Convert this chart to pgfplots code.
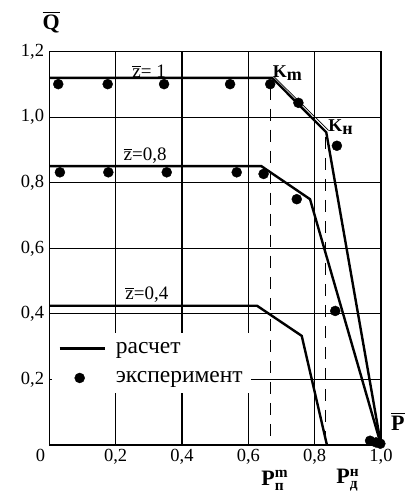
\documentclass[border=0pt]{standalone}
\usepackage{pgfplots}
\pgfplotsset{compat=1.18}
\usepackage{amsmath}
\usepackage{fontspec}
\setmainfont{Liberation Serif}
\begin{document}
\begin{tikzpicture}
\begin{axis}[
  scale only axis, width=331.7pt, height=393.3pt,
  xmin=0, xmax=1, ymin=0, ymax=1.2,
  xtick={0.2,0.4,0.6,0.8,1.0}, ytick={0.2,0.4,0.6,0.8,1.0,1.2},
  grid=major, grid style={black, line width=1.1pt},
  axis line style={line width=1.1pt}, major tick length=0pt,
  /pgf/number format/assume math mode=true,
  /pgf/number format/use comma, /pgf/number format/fixed, /pgf/number format/fixed zerofill, /pgf/number format/precision=1,
  ticklabel style={font=\fontsize{18.5}{18.5}\selectfont},
  xticklabel style={inner sep=0pt, anchor=north, yshift=-4pt},
  yticklabel style={inner sep=0pt, anchor=east, xshift=-5pt},
  clip=false,
  legend style={at={(axis cs:0.009,0.342)}, anchor=north west, fill=white, draw=none,
    font=\fontsize{23.5}{23.5}\selectfont, inner xsep=6pt, inner ysep=7pt, row sep=13pt,
    nodes={inner sep=2pt},
    /tikz/every odd column/.append style={column sep=8pt}},
  legend cell align=left,
]
% calculation z=1
\addplot[black, line width=2.4pt, legend image code/.code={\draw[black, line width=2.4pt] (0pt,0pt) -- (45pt,0pt);}]
  coordinates {(0,1.12)(0.672,1.12)(0.835,0.954)(1.0,0)};
\addlegendentry{расчет}
% experiment
\addplot[only marks, mark=*, mark size=5pt, black, legend image code/.code={\draw[black] plot[mark=*, mark size=5pt] coordinates {(20pt,0pt)};}]
  coordinates {(0.027,1.101)(0.176,1.101)(0.346,1.101)(0.545,1.101)(0.666,1.101)(0.751,1.044)(0.867,0.913)
  (0.032,0.832)(0.178,0.832)(0.354,0.832)(0.565,0.832)(0.646,0.827)(0.746,0.750)
  (0.862,0.409)(0.967,0.013)(0.985,0.008)(0.998,0.004)};
\addlegendentry{эксперимент}
\addplot[black, line width=0.7pt, forget plot] coordinates {(0.677,1.124)(0.842,0.960)};
\addplot[black, line width=2.4pt, forget plot] coordinates {(0,0.851)(0.639,0.851)(0.786,0.75)(1.0,0)};
\addplot[black, line width=2.4pt, forget plot] coordinates {(0,0.425)(0.626,0.425)(0.761,0.333)(0.837,0)};
\addplot[black, line width=1.2pt, dash pattern=on 12pt off 9pt, forget plot] coordinates {(0.667,1.09)(0.667,0)};
\addplot[black, line width=1.2pt, dash pattern=on 12pt off 9pt, forget plot] coordinates {(0.832,0.94)(0.832,0)};
% labels
\node[font=\fontsize{19}{19}\selectfont] at (axis cs:0.301,1.141) {$\overline{\mbox{z}}$= 1};
\node[font=\fontsize{19}{19}\selectfont] at (axis cs:0.289,0.883) {$\overline{\mbox{z}}$=0,8};
\node[font=\fontsize{19}{19}\selectfont] at (axis cs:0.294,0.458) {$\overline{\mbox{z}}$=0,4};
\node[font=\fontsize{18}{18}\selectfont] at (axis cs:0.718,1.136) {\textbf{K}\raisebox{-3pt}{\textbf{m}}};
\node[font=\fontsize{18}{18}\selectfont] at (axis cs:0.878,0.971) {\textbf{K}\raisebox{-3pt}{\textbf{н}}};
\node[font=\fontsize{22}{22}\selectfont] at (axis cs:0.006,1.291) {$\overline{\mbox{\textbf{Q}}}$};
\node[font=\fontsize{22}{22}\selectfont, anchor=east, inner sep=0pt] at (axis cs:1.072,0.073) {$\overline{\mbox{\textbf{P}}}$};
\node[font=\fontsize{18.5}{18.5}\selectfont, anchor=north east, inner sep=0pt] at (axis cs:-0.012,-0.013) {0};
\node[font=\fontsize{22}{22}\selectfont] at (axis cs:0.680,-0.108) {\textbf{P}$^{\text{\textbf{m}}}_{\text{\textbf{п}}}$};
\node[font=\fontsize{22}{22}\selectfont] at (axis cs:0.90,-0.108) {\textbf{P}$^{\text{\textbf{н}}}_{\text{\textbf{д}}}$};
\end{axis}
\pgfresetboundingbox
\path (current axis.south west) ++(-49.3pt,-52pt) rectangle ++(406pt,497pt);
\end{tikzpicture}
\end{document}
